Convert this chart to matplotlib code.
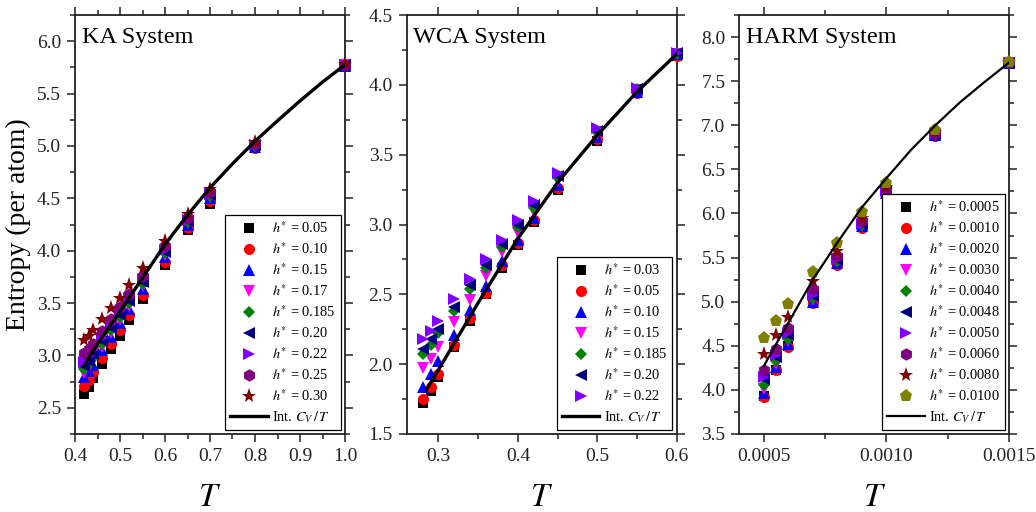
import matplotlib
matplotlib.use("Agg")
import matplotlib.pyplot as plt
from matplotlib.ticker import MultipleLocator, FormatStrFormatter

plt.rcParams["font.family"] = ["Liberation Serif", "DejaVu Serif"]
plt.rcParams["mathtext.fontset"] = "stix"

# ---------------- KA system ----------------
ka_T = [0.42, 0.43, 0.44, 0.46, 0.48, 0.50, 0.52, 0.55, 0.60, 0.65, 0.70, 0.80, 1.00]
ka_h = ["0.05", "0.10", "0.15", "0.17", "0.185", "0.20", "0.22", "0.25", "0.30"]
ka_S = [
    [2.63, 2.70, 2.78, 2.92, 3.06, 3.19, 3.34, 3.54, 3.86, 4.20, 4.45, 4.98, 5.76],
    [2.71, 2.77, 2.84, 2.98, 3.11, 3.24, 3.39, 3.58, 3.89, 4.22, 4.47, 4.98, 5.76],
    [2.79, 2.85, 2.91, 3.05, 3.18, 3.31, 3.44, 3.63, 3.94, 4.25, 4.50, 4.99, 5.76],
    [2.83, 2.89, 2.95, 3.08, 3.21, 3.34, 3.47, 3.66, 3.96, 4.26, 4.51, 5.00, 5.77],
    [2.87, 2.92, 2.98, 3.11, 3.24, 3.37, 3.50, 3.68, 3.98, 4.27, 4.52, 5.00, 5.77],
    [2.90, 2.95, 3.01, 3.14, 3.26, 3.39, 3.52, 3.70, 3.99, 4.28, 4.53, 5.01, 5.77],
    [2.94, 2.99, 3.05, 3.17, 3.30, 3.42, 3.55, 3.73, 4.01, 4.29, 4.54, 5.01, 5.77],
    [3.02, 3.06, 3.11, 3.23, 3.35, 3.46, 3.59, 3.76, 4.04, 4.31, 4.56, 5.02, 5.77],
    [3.15, 3.19, 3.24, 3.35, 3.45, 3.55, 3.67, 3.83, 4.09, 4.35, 4.59, 5.04, 5.78],
]
ka_curve_T = [0.42, 0.45, 0.50, 0.55, 0.60, 0.65, 0.70, 0.75, 0.80, 0.85, 0.90, 0.95, 1.00]
ka_curve_S = [2.90, 3.11, 3.42, 3.74, 4.06, 4.34, 4.60, 4.83, 5.045, 5.24, 5.43, 5.61, 5.775]

# ---------------- WCA system ----------------
wca_T = [0.28, 0.29, 0.30, 0.32, 0.34, 0.36, 0.38, 0.40, 0.42, 0.45, 0.50, 0.55, 0.60]
wca_h = ["0.03", "0.05", "0.10", "0.15", "0.185", "0.20", "0.22"]
wca_S = [
    [1.72, 1.81, 1.91, 2.12, 2.31, 2.50, 2.69, 2.85, 3.02, 3.25, 3.60, 3.94, 4.21],
    [1.75, 1.84, 1.93, 2.14, 2.33, 2.51, 2.71, 2.87, 3.03, 3.26, 3.61, 3.94, 4.21],
    [1.84, 1.93, 2.02, 2.21, 2.39, 2.56, 2.74, 2.89, 3.05, 3.28, 3.63, 3.95, 4.22],
    [1.97, 2.04, 2.12, 2.30, 2.46, 2.63, 2.80, 2.94, 3.09, 3.31, 3.65, 3.96, 4.22],
    [2.07, 2.14, 2.22, 2.38, 2.54, 2.69, 2.84, 2.98, 3.12, 3.33, 3.66, 3.97, 4.22],
    [2.11, 2.18, 2.25, 2.41, 2.57, 2.71, 2.86, 3.00, 3.14, 3.35, 3.67, 3.97, 4.23],
    [2.18, 2.24, 2.31, 2.47, 2.61, 2.75, 2.89, 3.03, 3.17, 3.37, 3.69, 3.98, 4.23],
]
wca_curve_T = [0.285, 0.30, 0.35, 0.40, 0.45, 0.50, 0.55, 0.60]
wca_curve_S = [1.82, 1.96, 2.44, 2.90, 3.30, 3.64, 3.95, 4.22]

# ---------------- HARM system ----------------
harm_T = [0.0005, 0.00055, 0.0006, 0.0007, 0.0008, 0.0009, 0.0010, 0.0012, 0.0015]
harm_h = ["0.0005", "0.0010", "0.0020", "0.0030", "0.0040",
          "0.0048", "0.0050", "0.0060", "0.0080", "0.0100"]
harm_S = [
    [3.93, 4.23, 4.50, 4.99, 5.43, 5.85, 6.22, 6.88, 7.71],
    [3.92, 4.22, 4.49, 4.98, 5.42, 5.84, 6.22, 6.88, 7.71],
    [3.96, 4.26, 4.52, 5.00, 5.44, 5.86, 6.23, 6.89, 7.71],
    [4.01, 4.29, 4.55, 5.02, 5.45, 5.86, 6.24, 6.89, 7.71],
    [4.06, 4.33, 4.58, 5.04, 5.46, 5.87, 6.24, 6.90, 7.71],
    [4.12, 4.37, 4.62, 5.06, 5.47, 5.88, 6.25, 6.90, 7.71],
    [4.15, 4.40, 4.64, 5.08, 5.48, 5.88, 6.25, 6.90, 7.71],
    [4.23, 4.46, 4.70, 5.14, 5.52, 5.91, 6.27, 6.91, 7.72],
    [4.41, 4.62, 4.83, 5.23, 5.57, 5.95, 6.30, 6.92, 7.72],
    [4.59, 4.78, 4.97, 5.34, 5.67, 6.02, 6.35, 6.95, 7.72],
]
harm_curve_T = [0.0005, 0.00055, 0.0006, 0.0007, 0.0008, 0.0009, 0.0010,
                0.0011, 0.0012, 0.0013, 0.0014, 0.0015]
harm_curve_S = [4.27, 4.52, 4.76, 5.25, 5.67, 6.07, 6.40, 6.72, 7.00, 7.26, 7.49, 7.71]

# marker style per h* value: (marker, colour, size)
STYLE = {
    "s": ("s", "#000000", 7.0),
    "o": ("o", "#ff0000", 8.0),
    "^": ("^", "#0000ff", 8.5),
    "v": ("v", "#ff00ff", 8.5),
    "D": ("D", "#008000", 6.5),
    "<": ("<", "#000080", 8.5),
    ">": (">", "#8000ff", 8.5),
    "h": ("h", "#800080", 9.0),
    "*": ("*", "#800000", 11.0),
    "p": ("p", "#808000", 9.5),
}
ka_marks = ["s", "o", "^", "v", "D", "<", ">", "h", "*"]
wca_marks = ["s", "o", "^", "v", "D", "<", ">"]
harm_marks = ["s", "o", "^", "v", "D", "<", ">", "h", "*", "p"]

fig = plt.figure(figsize=(10.36, 5.12), dpi=100)
W, H = 1036.0, 512.0
bottom = 1 - 434 / H
height = (434 - 15) / H
ax_ka = fig.add_axes([75 / W, bottom, 270 / W, height])
ax_wca = fig.add_axes([406.7 / W, bottom, 270 / W, height])
ax_harm = fig.add_axes([739.3 / W, bottom, 269.7 / W, height])


def draw(ax, T, S, hs, marks, cT, cS, lw, title, xlim, ylim, xmaj, xmin, xfmt):
    for vals, hv, mk in zip(S, hs, marks):
        m, c, ms = STYLE[mk]
        ax.plot(T, vals, linestyle="none", marker=m, color=c, markersize=ms,
                markeredgewidth=0, label=r"$h^{*}$ = " + hv, clip_on=False, zorder=3)
    ax.plot(cT, cS, color="black", lw=lw, label=r"Int. $C_V\,/\,T$", zorder=4)
    ax.set_xlim(*xlim)
    ax.set_ylim(*ylim)
    ax.xaxis.set_major_locator(MultipleLocator(xmaj))
    ax.xaxis.set_minor_locator(MultipleLocator(xmin))
    ax.yaxis.set_major_locator(MultipleLocator(0.5))
    ax.yaxis.set_minor_locator(MultipleLocator(0.25))
    ax.xaxis.set_major_formatter(FormatStrFormatter(xfmt))
    ax.yaxis.set_major_formatter(FormatStrFormatter("%.1f"))
    ax.tick_params(which="both", direction="out", top=True, right=True,
                   labelsize=14, width=1.1, colors="#222222")
    ax.tick_params(which="major", length=6, pad=4)
    ax.tick_params(which="minor", length=3.5)
    for sp in ax.spines.values():
        sp.set_linewidth(1.3)
        sp.set_color("#222222")
    ax.text(0.025, 0.946, title, transform=ax.transAxes, fontsize=17.5,
            va="center", ha="left")
    ax.set_xlabel(r"$T$", fontsize=24, labelpad=13)
    leg = ax.legend(loc="lower right", fontsize=10.4, frameon=True, fancybox=False,
                    edgecolor="black", framealpha=1, borderpad=0.35,
                    labelspacing=0.36, handlelength=2.6, handletextpad=0.3,
                    borderaxespad=0.3, numpoints=1)
    leg.get_frame().set_linewidth(0.9)
    leg.set_zorder(10)


draw(ax_ka, ka_T, ka_S, ka_h, ka_marks, ka_curve_T, ka_curve_S, 2.4,
     "KA System", (0.4, 1.0), (2.25, 6.25), 0.1, 0.05, "%.1f")
draw(ax_wca, wca_T, wca_S, wca_h, wca_marks, wca_curve_T, wca_curve_S, 2.4,
     "WCA System", (0.26, 0.6), (1.5, 4.5), 0.1, 0.05, "%.1f")
draw(ax_harm, harm_T, harm_S, harm_h, harm_marks, harm_curve_T, harm_curve_S, 1.6,
     "HARM System", (0.0004, 0.0015), (3.5, 8.25), 0.0005, 0.00025, "%.4f")

ax_ka.set_ylabel("Entropy (per atom)", fontsize=20, labelpad=4)

fig.savefig("out.png", dpi=100)
